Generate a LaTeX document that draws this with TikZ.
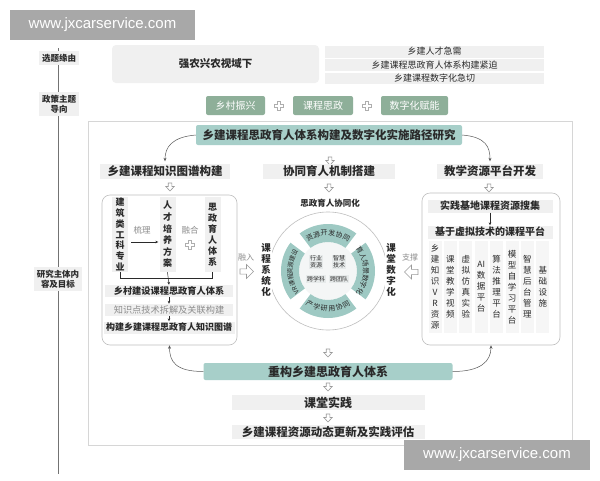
\documentclass[tikz,border=0pt]{standalone}
\usepackage{fontspec}
\setmainfont{Noto Sans CJK SC}
\newfontfamily\wmfont{Liberation Sans}
\usetikzlibrary{arrows.meta}
\definecolor{tealA}{HTML}{A7CFC9}
\definecolor{tealB}{HTML}{9EC9C3}
\definecolor{greenA}{HTML}{8EAF99}
\definecolor{lg}{HTML}{F0F0F0}
\definecolor{vlg}{HTML}{F6F6F6}
\definecolor{bd}{HTML}{BFBFBF}
\definecolor{fr}{HTML}{D6D6D6}
\definecolor{tx}{HTML}{2A2A2A}
\definecolor{gtx}{HTML}{8C8C8C}
\definecolor{agray}{HTML}{9A9A9A}
\definecolor{wmgray}{HTML}{A8A8A8}
\definecolor{innerc}{HTML}{F4F6F6}
\definecolor{gridc}{HTML}{E6EAEA}
\newcommand\fsz[2]{\fontsize{#1}{#2}\selectfont}
\tikzset{
  lgbox/.style={fill=lg, text=tx},
  tealbox/.style={fill=tealA, text=tx, rounded corners=2},
  greenbox/.style={fill=greenA, text=white, rounded corners=2, font=\fsz{10}{10}, minimum height=19},
  axislab/.style={fill=lg, font=\bfseries\fsz{8.5}{10.5}, align=center, inner xsep=3, inner ysep=2.5},
  colbox/.style={fill=lg, align=center, minimum width=16, minimum height=75, font=\bfseries\fsz{9}{10.8}},
  rcol/.style={fill=vlg, align=center, minimum width=13, minimum height=92, font=\fsz{8.5}{11}},
  panelbox/.style={draw=bd, line width=0.6, rounded corners=8},
  thinarrow/.style={draw=tx, line width=0.5, -{Stealth[length=3pt,width=2.6pt]}},
  curvearrow/.style={draw=black!65, line width=0.5, -{Stealth[length=3.5pt,width=3pt]}},
  ringtxt/.style={font=\fsz{7}{7}, text=tx},
  ringsm/.style={font=\fsz{6.3}{6.3}, text=tx},
  gridbox/.style={fill=gridc, align=center, font=\fsz{6}{7}, inner sep=1.2},
  vlabel/.style={fill=white, align=center, font=\bfseries\fsz{9.5}{10.8}, inner sep=1},
  hdown/.pic={\draw[agray, fill=white, line width=0.6] (-1.8,0) -- (1.8,0) -- (1.8,3.5) -- (4.2,3.5) -- (0,8) -- (-4.2,3.5) -- (-1.8,3.5) -- cycle;},
  hright/.pic={\draw[agray, fill=white, line width=0.6] (0,-2.6) -- (6.5,-2.6) -- (6.5,-7) -- (13.5,0) -- (6.5,7) -- (6.5,2.6) -- (0,2.6) -- cycle;},
  hleft/.pic={\draw[agray, fill=white, line width=0.6] (0,-2.6) -- (-6.5,-2.6) -- (-6.5,-7) -- (-13.5,0) -- (-6.5,7) -- (-6.5,2.6) -- (0,2.6) -- cycle;},
  hplus/.pic={\draw[agray!80, fill=white, line width=0.6] (-1.5,-4.5) -- (1.5,-4.5) -- (1.5,-1.5) -- (4.5,-1.5) -- (4.5,1.5) -- (1.5,1.5) -- (1.5,4.5) -- (-1.5,4.5) -- (-1.5,1.5) -- (-4.5,1.5) -- (-4.5,-1.5) -- (-1.5,-1.5) -- cycle;}
}
\begin{document}
\begin{tikzpicture}[x=1pt,y=-1pt, every node/.style={inner sep=0pt, text=tx}]
\useasboundingbox (0,0) rectangle (600,480);
\fill[white] (0,0) rectangle (600,480);

% left axis
\draw[black!55, line width=0.6] (58,48) -- (58,474);
\node[axislab] (ax1) at (59,58) {选题缘由};
\node[axislab] (ax2) at (59,104) {政策主题\\导向};
\node[axislab] (ax3) at (58,279) {研究主体内\\容及目标};

% top row
\node[lgbox, rounded corners=4, minimum width=207, minimum height=38, font=\bfseries\fsz{10.5}{10.5}] (bg1) at (215.5,64) {强农兴农视域下};
\node[lgbox, minimum width=219, minimum height=12, font=\fsz{9}{9}] (n1) at (434.5,51.5) {乡建人才急需};
\node[lgbox, minimum width=219, minimum height=12, font=\fsz{9}{9}] (n2) at (434.5,65) {乡建课程思政育人体系构建紧迫};
\node[lgbox, minimum width=219, minimum height=11, font=\fsz{9}{9}] (n3) at (434.5,78.5) {乡建课程数字化急切};

% policy
\node[greenbox, minimum width=59] (p1) at (235.5,105.5) {乡村振兴};
\node[greenbox, minimum width=60] (p2) at (323,105.5) {课程思政};
\node[greenbox, minimum width=67] (p3) at (414.5,105.5) {数字化赋能};
\pic at (279,105.5) {hplus};
\pic at (366.5,105.5) {hplus};

% frame
\draw[fr, line width=0.7] (88,121) rectangle (572,445);

% title
\node[tealbox, minimum width=266, minimum height=20, font=\bfseries\fsz{11.5}{11.5}] (title) at (329,135) {乡建课程思政育人体系构建及数字化实施路径研究};
\pic at (330,157) {hdown};

% section heads
\node[lgbox, minimum width=130, minimum height=15, font=\bfseries\fsz{11.5}{11.5}] (sec1) at (165,171) {乡建课程知识图谱构建};
\node[lgbox, minimum width=132, minimum height=15, font=\bfseries\fsz{11.5}{11.5}] (sec2) at (329,171) {协同育人机制搭建};
\node[lgbox, minimum width=106, minimum height=15, font=\bfseries\fsz{11.5}{11.5}] (sec3) at (490,171) {教学资源平台开发};
\draw[curvearrow, shorten >=2pt] (title.west) .. controls +(-24,2) and +(0,-16) .. (sec1.north);
\draw[curvearrow, shorten >=2pt] (title.east) .. controls +(24,2) and +(0,-16) .. (sec3.north);
\pic at (170,183) {hdown};
\pic at (329,184) {hdown};
\pic at (489,184) {hdown};

% left panel
\node[panelbox, minimum width=135, minimum height=150] (lp) at (169.5,270) {};
\node[colbox] (c1) at (120,234.5) {建\\筑\\类\\工\\科\\专\\业};
\node[colbox, font=\bfseries\fsz{9}{11.6}] (c2) at (167.5,234.5) {人\\才\\培\\养\\方\\案};
\node[colbox, font=\bfseries\fsz{9}{11}] (c3) at (212.5,234.5) {思\\政\\育\\人\\体\\系};
\node[font=\fsz{8.5}{8.5}, text=gtx] (sl) at (142,230) {梳理};
\draw[thinarrow, shorten <=3pt, shorten >=1pt] ([yshift=-7.5pt]c1.east) -- ([yshift=-7.5pt]c2.west);
\node[font=\fsz{8.5}{8.5}, text=gtx] (rh) at (190,230) {融合};
\pic at (190,245) {hplus};
\draw[tx, line width=0.5] (c1.south) -- ++(0,6) -| (c3.south);
\node[lgbox, minimum width=128, minimum height=12, font=\bfseries\fsz{9.2}{9.2}] (r1) at (169,291) {乡村建设课程思政育人体系};
\node[lgbox, minimum width=128, minimum height=12, font=\fsz{9.2}{9.2}, text=gtx] (r2) at (169,310) {知识点技术拆解及关联构建};
\node[lgbox, minimum width=131, minimum height=12, font=\bfseries\fsz{9}{9}] (r3) at (169,327.5) {构建乡建课程思政育人知识图谱};
\draw[thinarrow] (c2.south) -- (r1.north);
\draw[thinarrow] (r1.south) -- (r2.north);
\draw[thinarrow] (r2.south) -- (r3.north);

% left connector
\node[font=\fsz{8}{8}, text=gtx] (rj) at (246,257) {融入};
\pic at (240,271.5) {hright};

% ring
\begin{scope}[shift={(328,271)}, y=1pt]
\draw[bd, line width=0.6] (0,0) circle[radius=59];
\fill[innerc] (0,0) circle[radius=29];
\foreach \a in {90,0,270,180}
  \fill[tealB] ({\a-37}:47) arc[start angle=\a-37, end angle=\a+37, radius=47] -- ({\a+37}:29) arc[start angle=\a+37, end angle=\a-37, radius=29] -- cycle;
\foreach \c [count=\i] in {资,源,开,发,协,同}
  \node[ringtxt, rotate={(3.5-\i)*11.5}] (ta\i) at ({90+(3.5-\i)*11.5}:38) {\c};
\foreach \c [count=\i] in {育,人,场,景,数,字,化}
  \node[ringtxt, rotate={(4-\i)*11-90}] (tb\i) at ({(4-\i)*11}:38) {\c};
\foreach \c [count=\i] in {产,学,研,用,协,同}
  \node[ringtxt, rotate={(\i-3.5)*11.5}] (tc\i) at ({270+(\i-3.5)*11.5}:38) {\c};
\foreach \c/\a [count=\i] in {V/214,R/207.5,课/199,程/189.5,资/180,源/170.5,建/161,设/151.5}
  \node[ringsm, rotate={\a-90}] (td\i) at (\a:38) {\c};
\node[gridbox] (g1) at (-12,9) {行业\\资源};
\node[gridbox] (g2) at (11,9) {智慧\\技术};
\node[gridbox] (g3) at (-12,-8) {跨学科};
\node[gridbox] (g4) at (11,-8) {跨团队};
\end{scope}
\node[font=\bfseries\fsz{8.5}{8.5}] (xt) at (330,203) {思政育人协同化};
\node[vlabel] (kc) at (266,270) {课\\程\\系\\统\\化};
\node[vlabel] (kd) at (391,270) {课\\堂\\数\\字\\化};

% right connector
\node[font=\fsz{8}{8}, text=gtx] (zc) at (410,257) {支撑};
\pic at (418,272) {hleft};

% right panel
\node[panelbox, minimum width=138, minimum height=152] (rp) at (491,269) {};
\node[lgbox, minimum width=125, minimum height=13, font=\bfseries\fsz{10}{10}] (s1) at (490,206) {实践基地课程资源搜集};
\node[lgbox, minimum width=125, minimum height=13, font=\bfseries\fsz{10}{10}] (s2) at (490,232) {基于虚拟技术的课程平台};
\draw[thinarrow] (s1.south) -- (s2.north);
\node[rcol] (k1) at (435,287) {乡\\建\\知\\识\\V\\R\\资\\源};
\node[rcol] (k2) at (450.4,287) {课\\堂\\教\\学\\视\\频};
\node[rcol] (k3) at (465.8,287) {虚\\拟\\仿\\真\\实\\验};
\node[rcol] (k4) at (481.2,287) {AI\\数\\据\\平\\台};
\node[rcol] (k5) at (496.6,287) {算\\法\\推\\理\\平\\台};
\node[rcol] (k6) at (512,287) {模\\型\\自\\学\\习\\平\\台};
\node[rcol] (k7) at (527.4,287) {智\\慧\\后\\台\\管\\理};
\node[rcol] (k8) at (542.8,287) {基\\础\\设\\施};

% bottom
\pic at (328,349) {hdown};
\node[tealbox, minimum width=249, minimum height=17, font=\bfseries\fsz{12}{12}] (recon) at (328,371.5) {重构乡建思政育人体系};
\draw[curvearrow] (recon.west) .. controls +(-28,0) and +(0,16) .. (lp.south);
\draw[curvearrow] (recon.east) .. controls +(28,0) and +(0,16) .. (rp.south);
\pic at (328,383) {hdown};
\node[lgbox, minimum width=193, minimum height=15, font=\bfseries\fsz{12}{12}] (prac) at (328,402.5) {课堂实践};
\pic at (328,414) {hdown};
\node[lgbox, minimum width=193, minimum height=14, font=\bfseries\fsz{11.5}{11.5}] (last) at (328,432) {乡建课程资源动态更新及实践评估};

% watermarks
\node[fill=wmgray, text=white, font=\wmfont\fsz{15}{15}, minimum width=185, minimum height=30] (wm1) at (102.5,25) {www.jxcarservice.com};
\node[fill=wmgray, text=white, font=\wmfont\fsz{15}{15}, minimum width=186, minimum height=30] (wm2) at (497,454.5) {www.jxcarservice.com};
\end{tikzpicture}
\end{document}
